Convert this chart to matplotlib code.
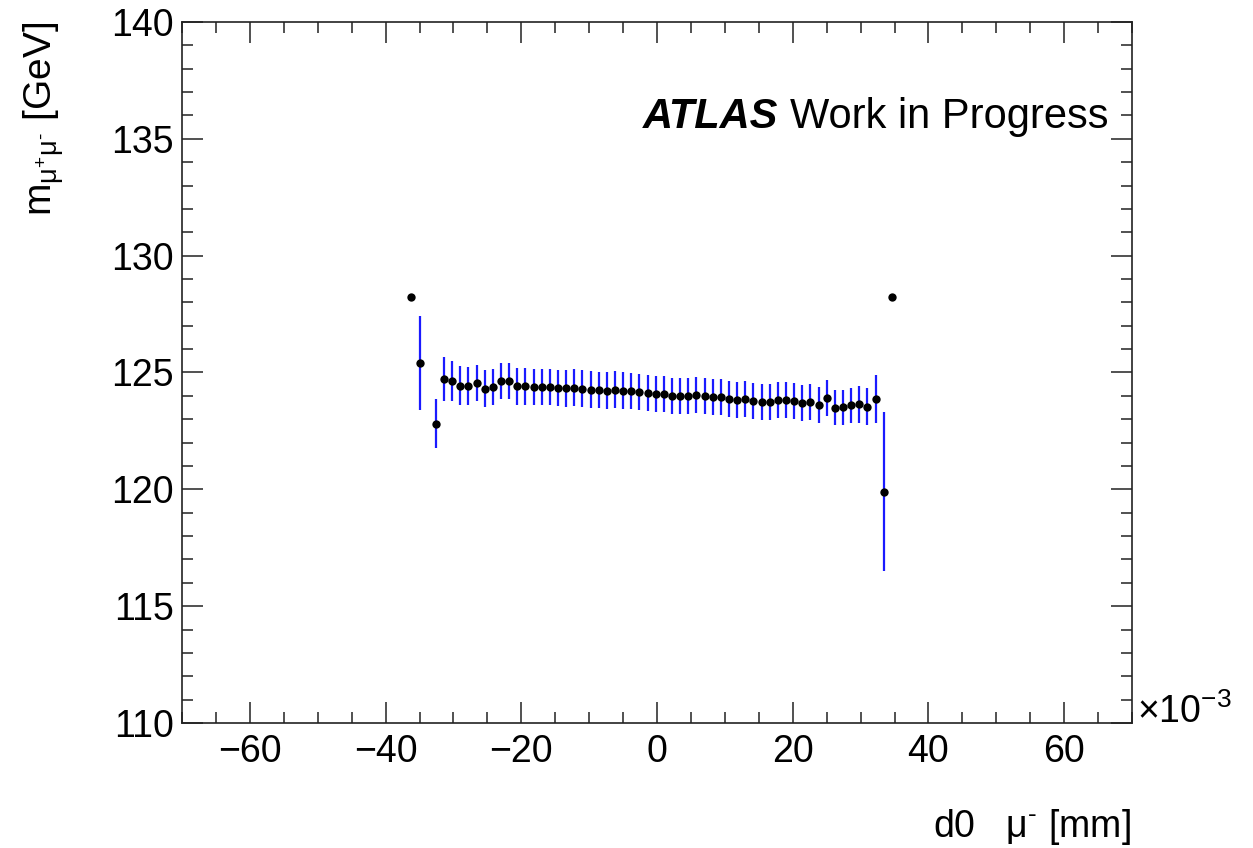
import numpy as np
import matplotlib
matplotlib.use("Agg")
import matplotlib.pyplot as plt
from matplotlib.ticker import MultipleLocator

plt.rcParams['font.family'] = ['Liberation Sans', 'DejaVu Sans']
plt.rcParams['mathtext.fontset'] = 'custom'
plt.rcParams['mathtext.rm'] = 'Liberation Sans'
plt.rcParams['mathtext.it'] = 'Liberation Sans:italic'
plt.rcParams['mathtext.bf'] = 'Liberation Sans:bold'

# bin centres of d0(mu-) in units of 1e-3 mm
d0_centres = [-36.2, -35.0, -32.6, -31.4, -30.2, -29.0, -27.8, -26.6, -25.4, -24.2,
              -23.0, -21.8, -20.6, -19.4, -18.2, -17.0, -15.8, -14.6, -13.4, -12.2,
              -11.0, -9.8, -8.6, -7.4, -6.2, -5.0, -3.8, -2.6, -1.4, -0.2,
              1.0, 2.2, 3.4, 4.6, 5.8, 7.0, 8.2, 9.4, 10.6, 11.8,
              13.0, 14.2, 15.4, 16.6, 17.8, 19.0, 20.2, 21.4, 22.6, 23.8,
              25.0, 26.2, 27.4, 28.6, 29.8, 31.0, 32.2, 33.4, 34.6]
# mean dimuon mass [GeV]
mass_mean = [128.22, 125.40, 122.80, 124.72, 124.64, 124.44, 124.42, 124.54, 124.31, 124.38,
             124.64, 124.64, 124.41, 124.41, 124.40, 124.38, 124.37, 124.32, 124.32, 124.35,
             124.31, 124.27, 124.25, 124.22, 124.27, 124.22, 124.20, 124.17, 124.11, 124.10,
             124.08, 124.01, 124.01, 124.00, 124.03, 123.98, 123.94, 123.95, 123.87, 123.83,
             123.87, 123.78, 123.74, 123.74, 123.81, 123.81, 123.77, 123.70, 123.73, 123.60,
             123.91, 123.50, 123.51, 123.60, 123.64, 123.54, 123.88, 119.89, 128.22]
# uncertainty on the mean [GeV]
mass_err = [0.0, 2.00, 1.05, 0.96, 0.85, 0.85, 0.81, 0.77, 0.80, 0.79,
            0.76, 0.76, 0.78, 0.78, 0.77, 0.76, 0.78, 0.77, 0.78, 0.78,
            0.78, 0.78, 0.78, 0.78, 0.78, 0.78, 0.78, 0.77, 0.77, 0.77,
            0.77, 0.77, 0.77, 0.77, 0.77, 0.77, 0.77, 0.77, 0.77, 0.77,
            0.77, 0.77, 0.77, 0.77, 0.77, 0.77, 0.77, 0.77, 0.77, 0.78,
            0.76, 0.73, 0.74, 0.75, 0.80, 0.78, 1.03, 3.40, 0.0]

W, H = 1253, 848
fig = plt.figure(figsize=(W / 100, H / 100), dpi=100)
ax = fig.add_axes([182 / W, 1 - 723 / H, (1132 - 182) / W, (723 - 22) / H])

ax.errorbar(d0_centres, mass_mean, yerr=mass_err, fmt='o', color='black',
            ecolor='#1a1aff', elinewidth=1.6, capsize=0, markersize=6,
            markeredgewidth=0, zorder=3)

ax.set_xlim(-70, 70)
ax.set_ylim(110, 140)
ax.xaxis.set_major_locator(MultipleLocator(20))
ax.xaxis.set_minor_locator(MultipleLocator(5))
ax.yaxis.set_major_locator(MultipleLocator(5))
ax.yaxis.set_minor_locator(MultipleLocator(1))
ax.tick_params(which='both', direction='in', top=True, right=True, width=1.1, color='#222222')
ax.tick_params(which='major', length=15, labelsize=27)
ax.tick_params(which='minor', length=8)
ax.tick_params(axis='x', pad=8)
ax.tick_params(axis='y', pad=6)
for s in ax.spines.values():
    s.set_linewidth(1.2)
    s.set_color('#222222')

fig.text(643 / W, 1 - 128 / H, 'ATLAS', ha='left', va='baseline', fontsize=30,
         fontweight='bold', fontstyle='italic')
fig.text(1108 / W, 1 - 128 / H, 'Work in Progress', ha='right', va='baseline', fontsize=30)

fig.text(1131 / W, 1 - 837 / H, 'd0   μ$^{\u2010}$ [mm]',
         ha='right', va='baseline', fontsize=27)
fig.text(44 / W, 1 - 22 / H, 'm$_{\\mathregular{μ^{+}μ^{\u2010}}}$ [GeV]',
         ha='center', va='top', rotation=90, fontsize=28)
fig.text(1137 / W, 1 - 712 / H, r'$\mathregular{\times 10^{-3}}$',
         ha='left', va='center', fontsize=27)

fig.savefig('out.png', dpi=100)
